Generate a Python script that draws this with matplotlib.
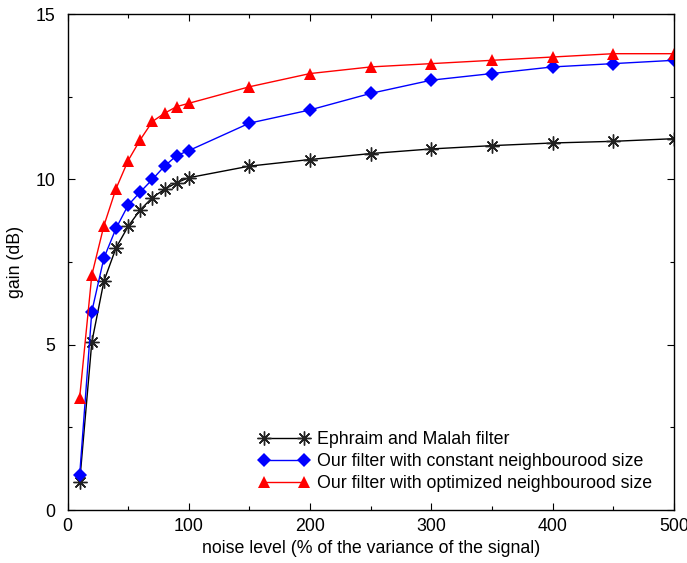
import matplotlib.pyplot as plt
from matplotlib.ticker import MultipleLocator

plt.rcParams['font.family'] = ['Liberation Sans', 'DejaVu Sans']

noise = [10, 20, 30, 40, 50, 60, 70, 80, 90, 100,
         150, 200, 250, 300, 350, 400, 450, 500]

ephraim = [0.85, 5.07, 6.92, 7.93, 8.58, 9.08, 9.45, 9.7, 9.9, 10.05,
           10.4, 10.6, 10.78, 10.92, 11.02, 11.1, 11.15, 11.23]
constant = [1.05, 6.0, 7.62, 8.52, 9.22, 9.62, 10.0, 10.4, 10.72, 10.87,
            11.7, 12.1, 12.6, 13.0, 13.2, 13.4, 13.5, 13.6]
optimized = [3.4, 7.1, 8.6, 9.72, 10.57, 11.2, 11.75, 12.0, 12.2, 12.3,
             12.8, 13.2, 13.4, 13.5, 13.6, 13.7, 13.8, 13.8]

labels = ['Ephraim and Malah filter',
          'Our filter with constant neighbourood size',
          'Our filter with optimized neighbourood size']

fs = 12.8

fig = plt.figure(figsize=(6.87, 5.63), dpi=100)
ax = fig.add_axes([0.0983, 0.0941, 0.8827, 0.8810])

ax.plot(noise, ephraim, color='black', lw=1, marker=(8, 2, 0),
        markersize=10, markeredgewidth=1, markeredgecolor='#222222',
        label=labels[0])
ax.plot(noise, constant, color='blue', lw=1, marker='D',
        markersize=7.5, markeredgewidth=0, label=labels[1])
ax.plot(noise, optimized, color='red', lw=1, marker='^',
        markersize=9, markeredgewidth=0, label=labels[2])

ax.set_xlim(0, 500)
ax.set_ylim(0, 15)
ax.xaxis.set_major_locator(MultipleLocator(100))
ax.xaxis.set_minor_locator(MultipleLocator(50))
ax.yaxis.set_major_locator(MultipleLocator(5))
ax.yaxis.set_minor_locator(MultipleLocator(2.5))
ax.tick_params(which='both', direction='in', top=True, right=True,
               labelsize=fs, width=0.8)
ax.tick_params(which='major', length=5)
ax.tick_params(which='minor', length=3)
ax.tick_params(axis='y', pad=9)
ax.tick_params(axis='x', pad=6)
for s in ax.spines.values():
    s.set_linewidth(1)

ax.set_xlabel('noise level (% of the variance of the signal)', fontsize=fs, labelpad=3)
ax.set_ylabel('gain (dB)', fontsize=fs, labelpad=8)

ax.legend(loc='lower right', bbox_to_anchor=(0.9753, 0.0222),
          frameon=False, fontsize=fs, numpoints=2,
          handlelength=2.87, handletextpad=0.4, labelspacing=0.28,
          borderaxespad=0)

fig.savefig('out.png', dpi=100)
